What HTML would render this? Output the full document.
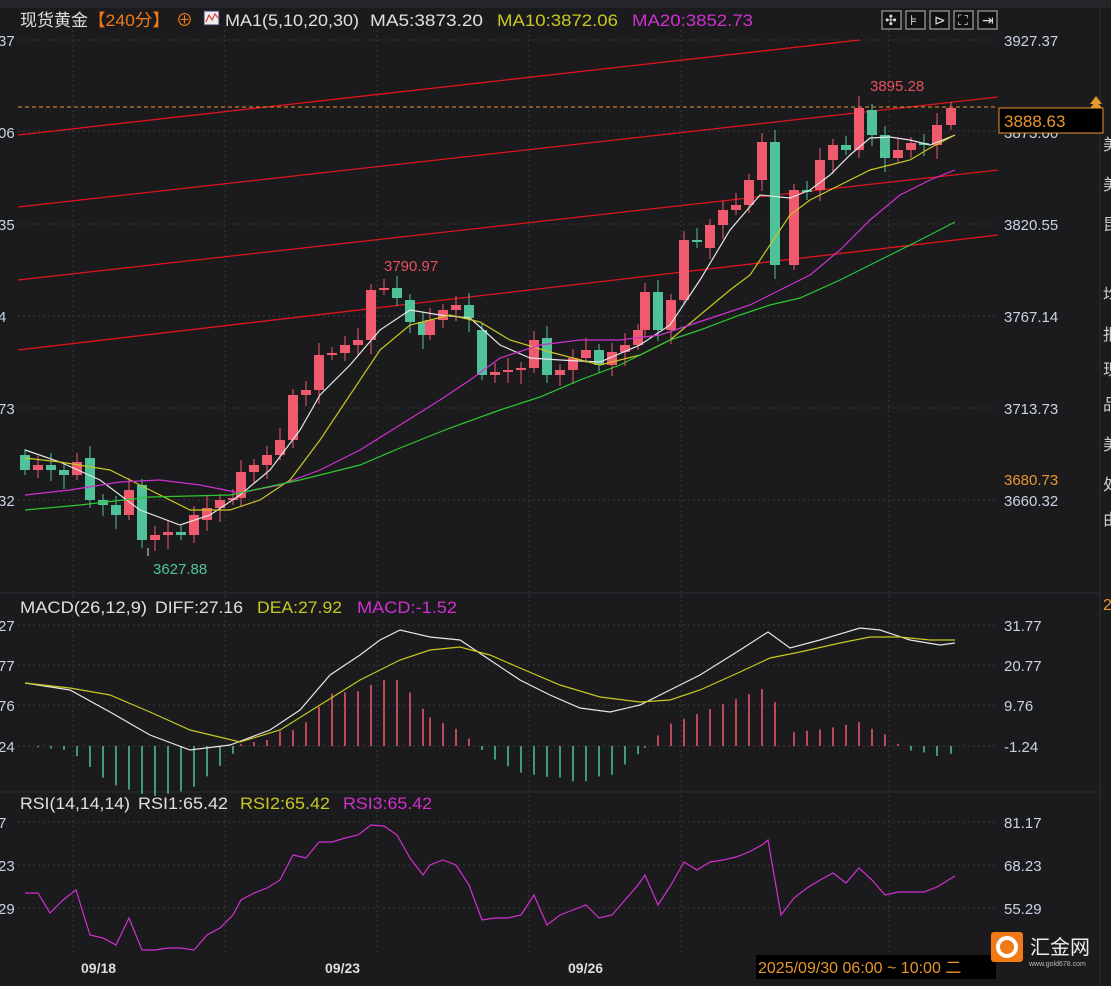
<!DOCTYPE html>
<html><head><meta charset="utf-8"><style>
html,body{margin:0;padding:0;background:#1b1b1d;width:1111px;height:986px;overflow:hidden}
svg{display:block;font-family:"Liberation Sans","Noto Sans CJK SC",sans-serif}
</style></head><body>
<svg id="s" width="1111" height="986" viewBox="0 0 1111 986" xmlns="http://www.w3.org/2000/svg">
<rect width="1111" height="986" fill="#1b1b1d"/>
<rect width="1111" height="8" fill="#25252a"/>
<g stroke="#3a3a3e" stroke-dasharray="2,3" stroke-width="1">
<line x1="18" y1="40" x2="998" y2="40"/><line x1="18" y1="131" x2="998" y2="131"/><line x1="18" y1="224" x2="998" y2="224"/><line x1="18" y1="316" x2="998" y2="316"/><line x1="18" y1="408" x2="998" y2="408"/><line x1="18" y1="500" x2="998" y2="500"/>
<line x1="18" y1="625" x2="998" y2="625"/><line x1="18" y1="665" x2="998" y2="665"/><line x1="18" y1="705" x2="998" y2="705"/><line x1="18" y1="746" x2="998" y2="746"/>
<line x1="18" y1="822" x2="998" y2="822"/><line x1="18" y1="865" x2="998" y2="865"/><line x1="18" y1="908" x2="998" y2="908"/>
<line x1="73" y1="30" x2="73" y2="955"/><line x1="225" y1="30" x2="225" y2="955"/><line x1="377" y1="30" x2="377" y2="955"/><line x1="529" y1="30" x2="529" y2="955"/><line x1="681" y1="30" x2="681" y2="955"/><line x1="889" y1="30" x2="889" y2="955"/>
</g>
<line x1="0" y1="593" x2="1100" y2="593" stroke="#2e2e32"/><line x1="0" y1="792" x2="1100" y2="792" stroke="#2e2e32"/>
<line x1="1100" y1="8" x2="1100" y2="986" stroke="#2e2e32"/>
<g stroke="#e0141e" stroke-width="1.3" fill="none">
<line x1="18" y1="135" x2="860" y2="40"/><line x1="18" y1="207" x2="998" y2="97"/><line x1="18" y1="280" x2="998" y2="170"/><line x1="18" y1="350" x2="998" y2="235"/>
</g>
<line x1="18" y1="107" x2="998" y2="107" stroke="#e8962e" stroke-dasharray="4,3"/>
<g id="candles"></g>
<g id="mas" fill="none" stroke-width="1.2"></g>
<g id="macd"></g>
<text x="384" y="271" fill="#e4505c" font-size="15">3790.97</text>
<text x="870" y="91" fill="#e4505c" font-size="15">3895.28</text>
<text x="153" y="574" fill="#4fc29a" font-size="15">3627.88</text>
<line x1="148" y1="556" x2="148" y2="548" stroke="#ddd"/>
<g font-size="17" fill="#e0e0e0">
<text x="20" y="26" textLength="68" lengthAdjust="spacingAndGlyphs">现货黄金</text><text x="88" y="26" fill="#f07a16" textLength="82" lengthAdjust="spacingAndGlyphs">【240分】</text><text x="176" y="26" fill="#f07a16">⊕</text>
<rect x="204" y="11" width="15" height="14" fill="#eee" stroke="#336"/>
<polyline points="206,22 209,15 212,20 215,14 218,18" stroke="#e02020" fill="none"/>
<text x="225" y="26" textLength="134" lengthAdjust="spacingAndGlyphs">MA1(5,10,20,30)</text><text x="370" y="26" textLength="113" lengthAdjust="spacingAndGlyphs">MA5:3873.20</text>
<text x="497" y="26" fill="#c8c820" textLength="121" lengthAdjust="spacingAndGlyphs">MA10:3872.06</text><text x="632" y="26" fill="#d030d0" textLength="121" lengthAdjust="spacingAndGlyphs">MA20:3852.73</text>
<text x="20" y="613" textLength="127" lengthAdjust="spacingAndGlyphs">MACD(26,12,9)</text><text x="155" y="613" textLength="88" lengthAdjust="spacingAndGlyphs">DIFF:27.16</text><text x="257" y="613" fill="#c8c820" textLength="85" lengthAdjust="spacingAndGlyphs">DEA:27.92</text><text x="357" y="613" fill="#d030d0" textLength="100" lengthAdjust="spacingAndGlyphs">MACD:-1.52</text>
<text x="20" y="809" textLength="110" lengthAdjust="spacingAndGlyphs">RSI(14,14,14)</text><text x="138" y="809" textLength="90" lengthAdjust="spacingAndGlyphs">RSI1:65.42</text><text x="240" y="809" fill="#c8c820" textLength="90" lengthAdjust="spacingAndGlyphs">RSI2:65.42</text><text x="343" y="809" fill="#d030d0" textLength="89" lengthAdjust="spacingAndGlyphs">RSI3:65.42</text>
</g>
<g font-size="15" fill="#c8d4e4">
<text x="1004" y="46">3927.37</text><text x="1004" y="138">3873.00</text><text x="1004" y="230">3820.55</text><text x="1004" y="322">3767.14</text><text x="1004" y="414">3713.73</text><text x="1004" y="506">3660.32</text>
<text x="1004" y="631">31.77</text><text x="1004" y="671">20.77</text><text x="1004" y="711">9.76</text><text x="1004" y="752">-1.24</text>
<text x="1004" y="828">81.17</text><text x="1004" y="871">68.23</text><text x="1004" y="914">55.29</text>
<text x="-2" y="46">37</text><text x="-2" y="138">06</text><text x="-2" y="230">35</text><text x="-2" y="322">4</text><text x="-2" y="414">73</text><text x="-2" y="506">32</text>
<text x="-2" y="631">27</text><text x="-2" y="671">77</text><text x="-2" y="711">76</text><text x="-2" y="752">24</text>
<text x="-2" y="828">7</text><text x="-2" y="871">23</text><text x="-2" y="914">29</text>
</g>
<text x="1004" y="485" font-size="15" fill="#e8962e">3680.73</text>
<rect x="999" y="108" width="104" height="25" fill="#000" stroke="#e8962e"/>
<text x="1004" y="127" font-size="17" fill="#e8962e">3888.63</text>
<polygon points="1096,96 1090,104 1102,104" fill="#e8962e"/><polygon points="1096,101 1090,108 1102,108" fill="#e8962e"/>
<g stroke="#bbb" fill="#111"><rect x="882" y="11" width="19" height="18"/><rect x="906" y="11" width="19" height="18"/><rect x="930" y="11" width="19" height="18"/><rect x="954" y="11" width="19" height="18"/><rect x="978" y="11" width="19" height="18"/></g>
<g font-size="14" fill="#ddd"><text x="885" y="25">✣</text><text x="910" y="25">⊧</text><text x="934" y="25">⊳</text><text x="958" y="25">⛶</text><text x="982" y="25">⇥</text></g>
<g font-size="16" fill="#ccc"><text x="1103" y="150">美</text><text x="1103" y="190">美</text><text x="1103" y="230">昆</text><text x="1103" y="300">均</text><text x="1103" y="340">报</text><text x="1103" y="375">现</text><text x="1103" y="410">品</text><text x="1103" y="450">美</text><text x="1103" y="490">处</text><text x="1103" y="525">由</text><text x="1103" y="610" fill="#e8962e">2</text></g>
<g font-size="14" fill="#ddd" font-weight="bold"><text x="81" y="973">09/18</text><text x="325" y="973">09/23</text><text x="568" y="973">09/26</text></g>
<rect x="756" y="955" width="240" height="24" fill="#000"/>
<text x="758" y="973" font-size="16" fill="#e8962e">2025/09/30 06:00 ~ 10:00 二</text>
<rect x="991" y="932" width="32" height="30" rx="3" fill="#f07a16"/>
<circle cx="1007" cy="947" r="9" fill="none" stroke="#fff" stroke-width="4"/>
<text x="1030" y="954" font-size="20" fill="#eee">汇金网</text>
<text x="1029" y="966" font-size="7" fill="#bbb">www.gold678.com</text>
</svg>
<script>
var NS="http://www.w3.org/2000/svg";
function el(p,t,a){var e=document.createElementNS(NS,t);for(var k in a)e.setAttribute(k,a[k]);p.appendChild(e);return e;}
var C=[[25,455,470],[38,470,465],[51,465,470],[64,470,475],[77,475,462],[90,458,500],[103,500,505],[116,505,515],[129,515,490],[142,485,540],[155,540,535],[168,535,532],[181,532,535],[194,535,515],[207,520,508],[220,508,500],[233,500,498],[241,498,472],[254,472,465],[267,465,455],[280,455,440],[293,440,395],[306,395,390],[319,390,355],[332,355,353],[345,353,345],[358,345,340],[371,340,290],[384,290,288],[397,288,298],[410,300,322],[423,322,335],[430,335,320],[443,320,310],[456,310,305],[469,305,318],[482,330,375],[495,375,372],[508,372,370],[521,370,368],[534,368,340],[547,338,375],[560,375,370],[573,370,358],[586,358,350],[599,350,365],[612,365,352],[625,352,345],[638,345,330],[645,330,292],[658,292,330],[671,330,300],[684,300,240],[697,240,240],[710,248,225],[723,225,210],[736,210,205],[749,205,180],[762,180,142],[775,142,265],[794,265,190],[807,190,192],[820,190,160],[833,160,145],[846,145,150],[859,150,108],[872,110,135],[885,135,158],[898,158,150],[911,150,143],[924,143,145],[937,145,125],[951,125,108]];
var g=document.getElementById("candles");
C.forEach(function(c,i){var up=c[2]<c[1];var col=up?"#ef5a6e":"#4fc29a";var top=Math.min(c[1],c[2]),bot=Math.max(c[1],c[2]);var h=Math.max(bot-top,2);
el(g,"line",{x1:c[0],x2:c[0],y1:top-6-(i%3)*3,y2:bot+5+(i%4)*3,stroke:col});
el(g,"rect",{x:c[0]-5,y:top,width:10,height:h,fill:col});});
function pl(pts,col,par){el(par||document.getElementById("mas"),"polyline",{points:pts.map(function(p){return p.join(",")}).join(" "),stroke:col,fill:"none","stroke-width":1.2});}
pl([[25,450],[60,462],[100,480],[140,510],[180,525],[210,515],[240,495],[270,470],[300,430],[320,395],[350,365],[380,330],[410,310],[440,315],[470,318],[500,345],[530,358],[560,360],[600,362],[640,345],[670,325],[700,280],[730,230],[760,195],[790,198],[810,190],[830,175],[850,155],[870,138],[890,137],[910,140],[930,145],[955,135]],"#e6e6e6");
pl([[25,458],[60,462],[110,470],[150,490],[190,510],[230,510],[260,500],[290,480],[320,440],[350,395],[380,350],[410,325],[450,315],[480,322],[510,340],[550,352],[600,365],[640,355],[670,340],[700,315],[730,290],[750,275],[770,245],[790,215],[810,200],[830,190],[850,180],[870,170],[890,165],[910,160],[930,148],[955,135]],"#c8c820");
pl([[25,495],[70,490],[120,482],[160,480],[200,485],[240,493],[280,485],[320,470],[360,450],[400,425],[440,400],[470,380],[500,358],[540,345],[580,340],[620,340],[660,335],[690,325],[720,315],[750,305],[780,290],[810,275],[840,250],[870,220],[900,195],[930,180],[955,170]],"#d030d0");
pl([[25,510],[80,505],[150,497],[230,495],[300,480],[360,465],[400,448],[450,428],[500,410],[540,397],[580,380],[620,365],[670,340],[700,330],[740,315],[770,305],[800,298],[840,280],[880,260],[920,240],[955,222]],"#2ec82e");
var DIF=[[25,683],[70,690],[110,712],[150,735],[190,750],[230,745],[270,730],[300,710],[330,675],[360,655],[380,640],[400,630],[430,637],[460,640],[490,660],[520,680],[550,695],[580,708],[610,712],[640,705],[670,690],[700,675],[740,650],[768,632],[790,648],[820,640],[860,628],[880,630],[910,640],[940,645],[955,643]];
var DEA=[[25,683],[70,688],[110,695],[150,712],[190,730],[240,742],[280,730],[320,705],[360,680],[400,660],[430,650],[460,647],[490,655],[520,668],[560,685],[600,697],[640,702],[670,700],[700,690],[740,672],[770,658],[800,652],[840,643],[870,637],[900,637],[930,640],[955,640]];
function it(a,x){for(var i=1;i<a.length;i++)if(x<=a[i][0]){var t=(x-a[i-1][0])/(a[i][0]-a[i-1][0]);return a[i-1][1]+t*(a[i][1]-a[i-1][1]);}return a[a.length-1][1];}
var m=document.getElementById("macd");
C.forEach(function(c){var x=c[0];var d=(it(DEA,x)-it(DIF,x))*2.2;var col=d>0?"#ef5a6e":"#4fc29a";el(m,"line",{x1:x,x2:x,y1:746,y2:746-d,stroke:col,"stroke-width":1.5});});
pl(DIF,"#e6e6e6",m);pl(DEA,"#c8c820",m);
pl([[25,893],[38,893],[50,913],[63,900],[76,890],[90,935],[103,938],[116,945],[129,918],[142,950],[155,950],[168,948],[181,948],[194,950],[207,935],[220,928],[233,915],[241,900],[254,893],[267,888],[280,880],[293,855],[306,858],[319,842],[332,842],[345,838],[358,835],[371,825],[384,826],[397,835],[410,858],[423,875],[430,865],[443,860],[456,865],[469,885],[482,920],[495,918],[508,918],[521,915],[534,895],[547,925],[560,915],[573,910],[586,905],[599,918],[612,915],[625,900],[638,885],[645,875],[658,905],[671,885],[684,862],[697,870],[710,862],[723,860],[736,857],[749,852],[762,845],[768,840],[781,915],[794,898],[807,888],[820,880],[833,873],[846,883],[859,868],[872,880],[885,895],[898,892],[911,892],[924,892],[937,887],[955,876]],"#d030d0",m);
</script>
</body></html>
